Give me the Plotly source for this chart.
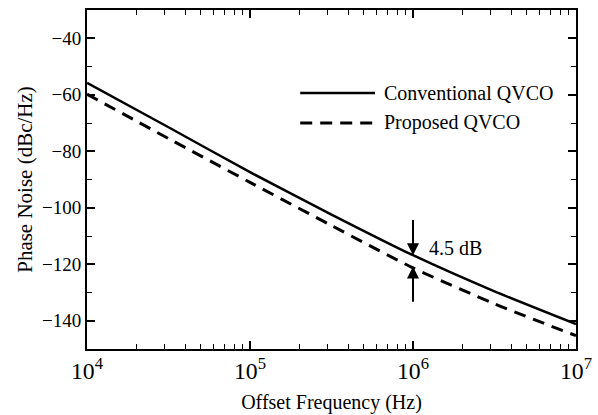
import numpy as np
import plotly.graph_objects as go

# Data
log_freq = [4.0, 4.5, 5.0, 5.5, 6.0, 6.5, 7.0]
freq_hz = [10 ** v for v in log_freq]
conventional = [-55.8, -71.5, -87.4, -102.4, -116.8, -129.6, -141.2]
proposed = [-59.8, -75.5, -91.0, -106.3, -121.3, -134.0, -145.3]
series_names = ["Conventional QVCO", "Proposed QVCO"]
y_ticks = [-40, -60, -80, -100, -120, -140]
gap_label = "4.5 dB"
gap_freq = 1e6

FONT = "Liberation Serif"

fig = go.Figure()
fig.add_trace(go.Scatter(x=freq_hz, y=conventional, mode="lines", name=series_names[0],
                         line=dict(color="black", width=2.5, shape="spline", smoothing=0.6),
                         showlegend=False))
fig.add_trace(go.Scatter(x=freq_hz, y=proposed, mode="lines", name=series_names[1],
                         line=dict(color="black", width=3, dash="12px,8px", shape="spline", smoothing=0.6),
                         showlegend=False))

# Manual legend (samples in paper coordinates)
leg_rows = [(0.755, dict(color="black", width=2.5)),
            (0.667, dict(color="black", width=3, dash="12px,8px"))]
for (yp, ln), name in zip(leg_rows, series_names):
    fig.add_shape(type="line", xref="paper", yref="paper", x0=0.436, x1=0.589, y0=yp, y1=yp, line=ln)
    fig.add_annotation(xref="paper", yref="paper", x=0.603, y=yp, text=name, showarrow=False,
                       xanchor="left", yanchor="middle", font=dict(family=FONT, size=20, color="black"))

# Gap arrows at 1 MHz
gx = np.log10(gap_freq)
i6 = log_freq.index(6.0)
fig.add_annotation(x=gx, y=conventional[i6], ax=gx, ay=conventional[i6] + 13, axref="x", ayref="y",
                   xref="x", yref="y", showarrow=True, arrowhead=2, arrowsize=1.2, arrowwidth=2,
                   arrowcolor="black", text="")
fig.add_annotation(x=gx, y=proposed[i6] + 0.5, ax=gx, ay=proposed[i6] - 12.5, axref="x", ayref="y",
                   xref="x", yref="y", showarrow=True, arrowhead=2, arrowsize=1.2, arrowwidth=2,
                   arrowcolor="black", text="")
fig.add_annotation(x=gx, y=conventional[i6] + 2.5, text=gap_label, showarrow=False, xanchor="left",
                   xshift=14, yanchor="middle", font=dict(family=FONT, size=20, color="black"))

fig.update_layout(
    width=598, height=415,
    margin=dict(l=87, r=22, t=10, b=66),
    paper_bgcolor="white", plot_bgcolor="white",
    font=dict(family=FONT, size=19, color="black"),
)
fig.update_xaxes(
    type="log", range=[4, 7], tickmode="linear", tick0=0, dtick=1, exponentformat="power",
    ticks="inside", ticklen=8, tickwidth=1.5, tickcolor="black",
    minor=dict(dtick="D1", ticks="inside", ticklen=5, tickwidth=1.2, tickcolor="black", showgrid=False),
    showline=True, linecolor="black", linewidth=2, mirror="ticks", showgrid=False, zeroline=False,
    automargin=False,
    title=dict(text="Offset Frequency (Hz)", standoff=12, font=dict(family=FONT, size=20)),
    tickfont=dict(family=FONT, size=19),
)
fig.update_yaxes(
    range=[-150, -30], tickvals=y_ticks,
    ticks="inside", ticklen=8, tickwidth=1.5, tickcolor="black",
    minor=dict(dtick=10, tick0=0, ticks="inside", ticklen=5, tickwidth=1.2, tickcolor="black", showgrid=False),
    showline=True, linecolor="black", linewidth=2, mirror="ticks", showgrid=False, zeroline=False,
    title=dict(text="Phase Noise (dBc/Hz)", standoff=4, font=dict(family=FONT, size=21)),
    tickfont=dict(family=FONT, size=19),
)

fig.write_html("out.html")
